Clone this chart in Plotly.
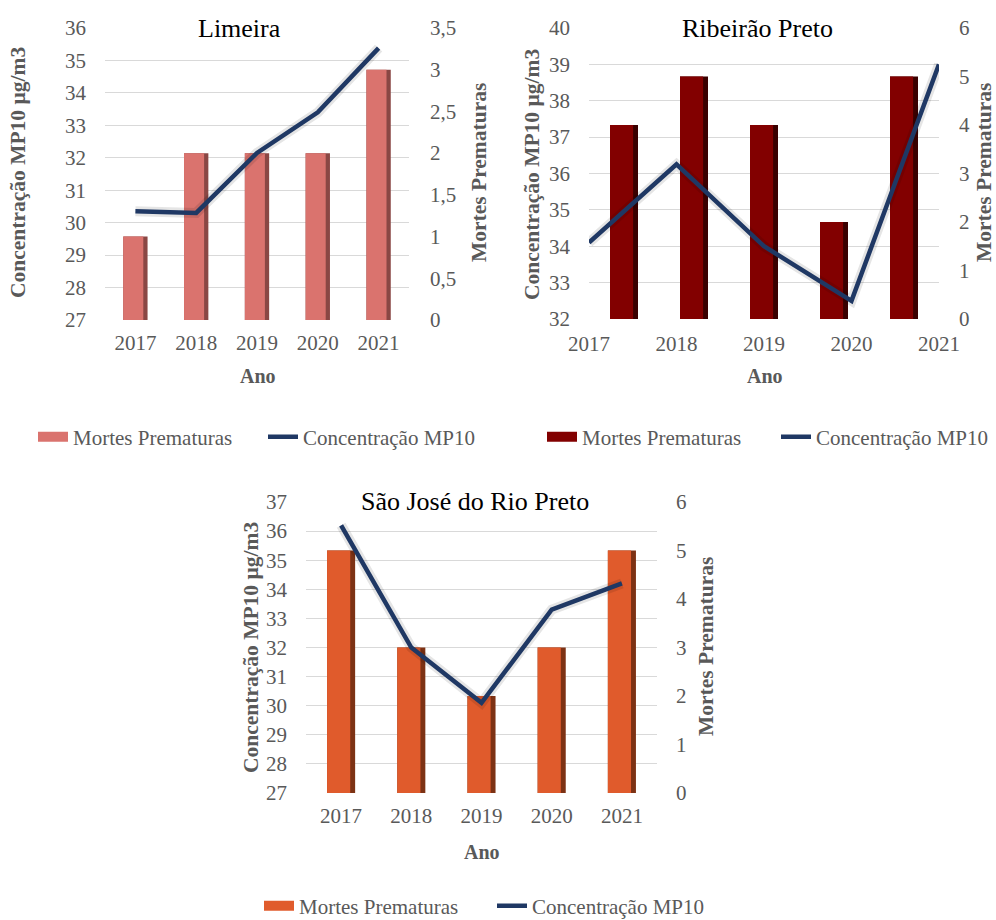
import plotly.graph_objects as go

# ---- data -------------------------------------------------------------
anos = ["2017", "2018", "2019", "2020", "2021"]
anos_num = [2017, 2018, 2019, 2020, 2021]

limeira_mortes = [1, 2, 2, 2, 3]
limeira_mp10 = [30.35, 30.3, 32.15, 33.4, 35.38]

ribeirao_mortes = [4, 5, 4, 2, 5]
ribeirao_mp10 = [34.1, 36.25, 34.0, 32.5, 39.0]

sjrp_mortes = [5, 3, 2, 3, 5]
sjrp_mp10 = [36.2, 32.0, 30.1, 33.3, 34.2]

# ---- style ------------------------------------------------------------
W, H = 996, 920
SERIF = "Liberation Serif"
GREY = "#595959"
GRID = "#d9d9d9"
LINE = "#1f3864"
HALO = "rgba(0,0,0,0.10)"
TICK = dict(family=SERIF, size=21, color=GREY)

PANELS = {
    "Limeira": dict(face="#da736e", edge="#8a4744"),
    "Ribeirão Preto": dict(face="#820000", edge="#3a0000"),
    "São José do Rio Preto": dict(face="#e05b2c", edge="#7d3214"),
}


def px_x(v):
    return v / W


def px_y(v):
    return 1 - v / H


def dom_x(a, b):
    return [px_x(a), px_x(b)]


def dom_y(top, bottom):
    return [px_y(bottom), px_y(top)]


fig = go.Figure()


def add_bars(x_id, y_id, values, colors):
    # darker full-width bar underneath, lighter face on top -> bevel look
    fig.add_trace(go.Bar(x=anos, y=values, xaxis=x_id, yaxis=y_id,
                         width=0.4, offset=-0.2, marker_color=colors["edge"],
                         marker_line_width=0, showlegend=False, hoverinfo="skip"))
    fig.add_trace(go.Bar(x=anos, y=values, xaxis=x_id, yaxis=y_id,
                         width=0.33, offset=-0.2, marker_color=colors["face"],
                         marker_line_width=0, showlegend=False,
                         name="Mortes Prematuras"))


def add_legend_entries(legend_id, colors, x_id, y_id):
    fig.add_trace(go.Scatter(x=[None], y=[None], xaxis=x_id, yaxis=y_id,
                             mode="lines", line=dict(color=colors["face"], width=11),
                             name="Mortes Prematuras", legend=legend_id))


def add_line(xs, ys, x_id, y_id, legend_id):
    # soft halo under the concentration line
    fig.add_trace(go.Scatter(x=xs, y=ys, xaxis=x_id, yaxis=y_id, mode="lines",
                             line=dict(color=HALO, width=10), showlegend=False,
                             hoverinfo="skip"))
    fig.add_trace(go.Scatter(x=xs, y=ys, xaxis=x_id, yaxis=y_id, mode="lines",
                             line=dict(color=LINE, width=4.5),
                             name="Concentração MP10", legend=legend_id))


# ---- Limeira ----------------------------------------------------------
c = PANELS["Limeira"]
add_bars("x", "y", limeira_mortes, c)
add_legend_entries("legend", c, "x", "y")
add_line(anos, limeira_mp10, "x", "y2", "legend")

# ---- Ribeirão Preto ---------------------------------------------------
c = PANELS["Ribeirão Preto"]
add_bars("x3", "y3", ribeirao_mortes, c)
add_legend_entries("legend2", c, "x3", "y3")
add_line(anos_num, ribeirao_mp10, "x4", "y4", "legend2")

# ---- São José do Rio Preto --------------------------------------------
c = PANELS["São José do Rio Preto"]
add_bars("x5", "y5", sjrp_mortes, c)
add_legend_entries("legend3", c, "x5", "y5")
add_line(anos, sjrp_mp10, "x5", "y6", "legend3")

# ---- axes -------------------------------------------------------------
cat_axis = dict(type="category", categoryorder="array", categoryarray=anos,
                range=[-0.5, 4.5], showgrid=False, showline=False, zeroline=False,
                ticks="", tickfont=TICK, ticklabelstandoff=8, fixedrange=True,
                automargin=False)
right_axis = dict(side="right", showgrid=False, zeroline=False, showline=False,
                  ticks="", tickfont=TICK, ticklabelstandoff=20, fixedrange=True,
                  automargin=False)
left_axis = dict(side="left", showgrid=True, gridcolor=GRID, gridwidth=1.3,
                 zeroline=False, showline=False, ticks="", tickfont=TICK,
                 ticklabelstandoff=18, fixedrange=True, automargin=False)

lim_x, lim_y = dom_x(105, 409), dom_y(28, 320)
rib_x, rib_y = dom_x(589, 939), dom_y(28, 319)
sj_x, sj_y = dom_x(306, 657), dom_y(502, 793)

fig.update_layout(
    xaxis=dict(cat_axis, domain=lim_x, anchor="y"),
    yaxis=dict(right_axis, domain=lim_y, anchor="x", range=[0, 3.5], dtick=0.5),
    yaxis2=dict(left_axis, overlaying="y", anchor="x", range=[27, 36], dtick=1),

    xaxis3=dict(cat_axis, domain=rib_x, anchor="y3", showticklabels=False),
    yaxis3=dict(right_axis, domain=rib_y, anchor="x3", range=[0, 6], dtick=1,
                ticklabelstandoff=19),
    xaxis4=dict(overlaying="x3", anchor="y4", side="bottom", range=[2017, 2021],
                tickvals=anos_num, ticktext=anos, showgrid=False, zeroline=False,
                showline=False, ticks="", tickfont=TICK, ticklabelstandoff=10,
                fixedrange=True, automargin=False),
    yaxis4=dict(left_axis, overlaying="y3", anchor="x4", range=[32, 40], dtick=1),

    xaxis5=dict(cat_axis, domain=sj_x, anchor="y5", ticklabelstandoff=8),
    yaxis5=dict(right_axis, domain=sj_y, anchor="x5", range=[0, 6], dtick=1,
                ticklabelstandoff=18),
    yaxis6=dict(left_axis, overlaying="y5", anchor="x5", range=[27, 37], dtick=1),
)

# ---- titles -----------------------------------------------------------
def note(text, x, y, size=21, bold=False, color=GREY, angle=0, bg=None):
    fig.add_annotation(text=f"<b>{text}</b>" if bold else text,
                       x=px_x(x), y=px_y(y), xref="paper", yref="paper",
                       xanchor="center", yanchor="middle", showarrow=False,
                       textangle=angle, bgcolor=bg, borderpad=0,
                       font=dict(family=SERIF, size=size, color=color))


note("Limeira", 239, 28, size=26, color="#000000", bg="white")
note("Ribeirão Preto", 757, 28, size=26, color="#000000", bg="white")
note("São José do Rio Preto", 475, 502, size=26, color="#000000", bg="white")

note("Ano", 258, 376, size=20, bold=True)
note("Ano", 765, 376, size=20, bold=True)
note("Ano", 482, 852, size=20, bold=True)

note("Concentração MP10 µg/m3", 18, 173, size=21.5, bold=True, angle=-90)
note("Mortes Prematuras", 479, 173, size=21.5, bold=True, angle=-90)
note("Concentração MP10 µg/m3", 532, 175, size=21.5, bold=True, angle=-90)
note("Mortes Prematuras", 984, 173, size=21.5, bold=True, angle=-90)
note("Concentração MP10 µg/m3", 251, 648, size=21.5, bold=True, angle=-90)
note("Mortes Prematuras", 706, 647, size=21.5, bold=True, angle=-90)

# ---- legends ----------------------------------------------------------
leg = dict(orientation="h", xanchor="left", yanchor="middle", bgcolor="rgba(0,0,0,0)",
           font=dict(family=SERIF, size=21, color=GREY), itemwidth=30,
           tracegroupgap=0, entrywidthmode="pixels")

fig.update_layout(
    legend=dict(leg, x=px_x(33), y=px_y(437), entrywidth=185),
    legend2=dict(leg, x=px_x(542), y=px_y(437), entrywidth=189),
    legend3=dict(leg, x=px_x(259), y=px_y(906), entrywidth=188),
)

fig.update_layout(
    width=W, height=H, margin=dict(l=0, r=0, t=0, b=0, autoexpand=False),
    paper_bgcolor="white", plot_bgcolor="rgba(0,0,0,0)",
    barmode="overlay", separators=",.", showlegend=True,
    font=dict(family=SERIF, color=GREY),
)

fig.write_html("out.html")
